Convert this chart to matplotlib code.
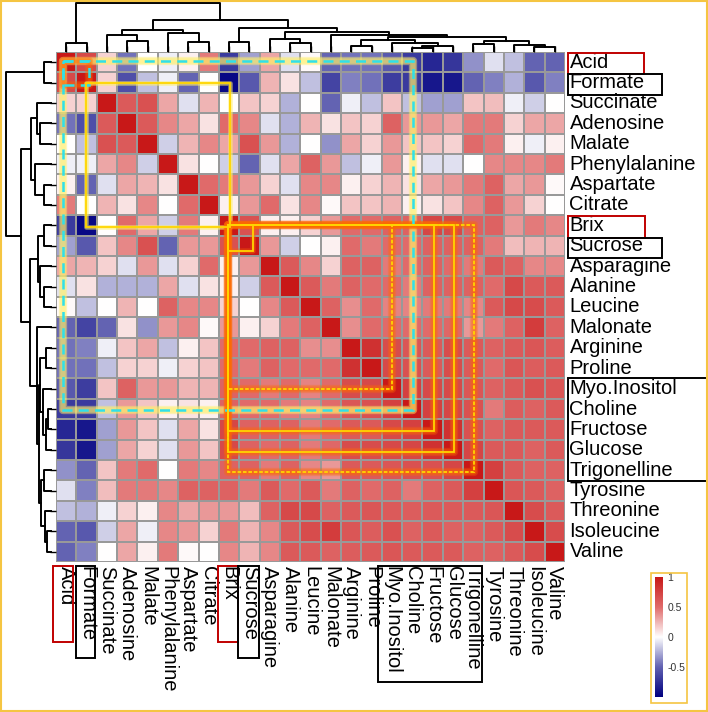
import numpy as np
import matplotlib
matplotlib.use('Agg')
import matplotlib.pyplot as plt
from matplotlib.colors import LinearSegmentedColormap
from matplotlib.patches import Rectangle

plt.rcParams['font.family'] = ['Liberation Sans', 'DejaVu Sans']

labels = ['Acid', 'Formate', 'Succinate', 'Adenosine', 'Malate', 'Phenylalanine',
          'Aspartate', 'Citrate', 'Brix', 'Sucrose', 'Asparagine', 'Alanine',
          'Leucine', 'Malonate', 'Arginine', 'Proline', 'Myo.Inositol', 'Choline',
          'Fructose', 'Glucose', 'Trigonelline', 'Tyrosine', 'Threonine',
          'Isoleucine', 'Valine']

# upper triangle of the correlation matrix, row i holds columns i+1 .. 24
upper = [
    [0.70, 0.15, -0.45, 0.00, -0.05, 0.05, 0.45, -0.70, -0.30, 0.30, -0.10, 0.02,
     -0.50, -0.45, -0.45, -0.55, -0.70, -0.80, -0.72, -0.35, -0.10, -0.20, -0.50, -0.50],
    [0.15, -0.60, -0.20, -0.05, -0.50, 0.00, -0.95, -0.55, 0.25, 0.10, -0.20, -0.65,
     -0.40, -0.45, -0.68, -0.70, -0.88, -0.88, -0.50, -0.40, -0.25, -0.55, -0.40],
    [0.60, 0.65, 0.30, -0.10, 0.25, 0.00, 0.20, 0.15, -0.25, 0.00, -0.50, -0.05,
     -0.20, 0.20, -0.20, -0.30, -0.30, 0.20, 0.22, -0.05, -0.15, 0.00],
    [0.60, 0.40, 0.30, 0.10, 0.50, 0.40, -0.10, -0.25, 0.25, 0.10, 0.20, 0.15,
     0.55, 0.35, 0.35, 0.30, 0.45, 0.45, 0.15, 0.30, 0.30],
    [-0.15, 0.25, 0.40, 0.30, 0.65, 0.35, -0.25, 0.00, -0.35, 0.30, 0.15, 0.35,
     0.20, 0.20, 0.15, 0.50, 0.45, 0.05, -0.05, 0.05],
    [0.10, 0.00, -0.15, -0.50, -0.10, 0.30, 0.55, 0.35, -0.20, -0.05, 0.35, 0.05,
     -0.10, -0.10, 0.00, 0.40, 0.40, 0.40, 0.45],
    [0.50, 0.45, 0.35, 0.15, -0.10, 0.40, 0.40, 0.05, 0.15, 0.25, 0.10, 0.30,
     0.35, 0.45, 0.55, 0.30, 0.35, 0.02],
    [0.05, 0.35, 0.50, 0.10, 0.40, 0.02, 0.20, 0.20, 0.25, 0.05, 0.10, 0.20,
     0.40, 0.55, 0.35, 0.15, 0.00],
    [0.65, 0.05, 0.05, 0.15, 0.35, 0.50, 0.50, 0.55, 0.55, 0.72, 0.70, 0.55,
     0.55, 0.35, 0.45, 0.40],
    [0.35, -0.15, 0.00, 0.05, 0.50, 0.45, 0.50, 0.50, 0.55, 0.55, 0.55, 0.45,
     0.22, 0.25, 0.25],
    [0.60, 0.40, 0.15, 0.55, 0.55, 0.45, 0.50, 0.55, 0.50, 0.45, 0.60, 0.55,
     0.40, 0.40],
    [0.60, 0.45, 0.55, 0.50, 0.50, 0.45, 0.55, 0.55, 0.55, 0.50, 0.70, 0.60, 0.60],
    [0.55, 0.38, 0.50, 0.42, 0.42, 0.45, 0.45, 0.40, 0.60, 0.70, 0.68, 0.60],
    [0.38, 0.50, 0.50, 0.50, 0.50, 0.52, 0.35, 0.45, 0.55, 0.78, 0.55],
    [0.85, 0.68, 0.62, 0.60, 0.68, 0.60, 0.55, 0.60, 0.62, 0.58],
    [0.70, 0.65, 0.60, 0.68, 0.60, 0.50, 0.62, 0.58, 0.60],
    [0.75, 0.70, 0.70, 0.62, 0.55, 0.60, 0.65, 0.62],
    [0.75, 0.72, 0.65, 0.45, 0.58, 0.55, 0.60],
    [0.85, 0.65, 0.55, 0.60, 0.60, 0.60],
    [0.72, 0.60, 0.60, 0.55, 0.60],
    [0.75, 0.60, 0.55, 0.55],
    [0.62, 0.60, 0.55],
    [0.68, 0.60],
    [0.68],
]

# dendrograms as (left, right, merge height in px)
col_tree = ((0, 1, 9),
            (((2, (3, 4, 11), 17), (5, (6, 7, 10), 19), 22),
             ((8, 9, 10),
              ((10, (11, 12, 9), 13),
               (13, (((14, 15, 6), (16, ((17, 18, 4), 19, 6), 9), 12),
                     ((20, 21, 8), (22, (23, 24, 5), 7), 11), 15), 17), 20), 24), 32), 49)
row_tree = ((0, 1, 8),
            (((2, (3, 4, 12), 16), (5, (6, 7, 8), 18), 22),
             (((8, 9, 8), (10, (11, 12, 8), 12), 15),
              (13, (((14, 15, 6), (16, ((17, 18, 4), 19, 6), 9), 12),
                    ((20, 21, 8), (22, (23, 24, 5), 7), 11), 14), 16), 23), 32), 48)


def build_matrix(rows):
    n = len(rows) + 1
    m = np.eye(n)
    for i, r in enumerate(rows):
        for k, v in enumerate(r):
            m[i, i + 1 + k] = v
            m[i + 1 + k, i] = v
    return m


def draw_tree(ax, node, orient):
    if isinstance(node, int):
        return node + 0.5, 0.0
    left, right, h = node
    p1, h1 = draw_tree(ax, left, orient)
    p2, h2 = draw_tree(ax, right, orient)
    if orient == 'top':
        ax.plot([p1, p1, p2, p2], [h1, h, h, h2], color='k', lw=1.4)
    else:
        ax.plot([h1, h, h, h2], [p1, p1, p2, p2], color='k', lw=1.4)
    return (p1 + p2) / 2, h


def glow_rect(ax, x0, x1, y0, y1, color, glow, ls='-', lw=1.3, widths=(6, 4, 2.5), alpha=0.3):
    for w in widths:
        ax.add_patch(Rectangle((x0, y0), x1 - x0, y1 - y0, fill=False, ec=glow,
                               lw=w, alpha=alpha, joinstyle='round', zorder=3))
    ax.add_patch(Rectangle((x0, y0), x1 - x0, y1 - y0, fill=False, ec=color,
                           lw=lw, ls=ls, zorder=4))


corr = build_matrix(upper)
n = len(labels)
W, H = 708, 712

cmap = LinearSegmentedColormap.from_list(
    'bwr_corr', [(0.0, '#000080'), (0.25, '#6262b2'), (0.5, '#ffffff'),
                 (0.75, '#e06b6b'), (1.0, '#c81818')])

fig = plt.figure(figsize=(W / 100, H / 100), dpi=100)
fig.patch.set_facecolor('white')

ax = fig.add_axes([56 / W, 1 - 562 / H, 509 / W, 510 / H])
ax.pcolormesh(np.arange(n + 1), np.arange(n + 1), corr, cmap=cmap, vmin=-1, vmax=1,
              edgecolors='#999999', linewidth=1.2)
ax.set_xlim(0, n)
ax.set_ylim(n, 0)
for s in ax.spines.values():
    s.set_visible(False)
ax.set_xticks(np.arange(n) + 0.5)
ax.set_yticks(np.arange(n) + 0.5)
ax.set_xticklabels([])
ax.set_yticklabels([])
ax.tick_params(axis='x', top=True, bottom=False, length=4, width=1)
ax.tick_params(axis='y', left=True, length=4, width=1)

for i, lab in enumerate(labels):
    ax.text(n + 0.22, i + 0.5, lab, va='center', ha='left', fontsize=14.5, clip_on=False)
    ax.text(i + 0.5, n + 0.2, lab, va='top', ha='center', rotation=270, fontsize=14.5,
            clip_on=False)

# highlight boxes on the heatmap
orange = '#ff6a00'
yellow = '#ffd500'
glow_rect(ax, 0.35, 17.55, 0.45, 17.55, '#30e0e8', '#fff06a', ls=(0, (4, 2.5)), lw=1.8,
          widths=(6, 4), alpha=0.45)
glow_rect(ax, 0.35, 1.6, 0.45, 1.6, '#30e0e8', orange, ls=(0, (4, 2.5)), lw=1.8)
glow_rect(ax, 1.45, 8.55, 1.5, 8.56, yellow, '#fff06a', widths=(3.5, 2.5), alpha=0.4)
glow_rect(ax, 8.45, 20.55, 8.5, 20.6, yellow, orange, ls=(0, (2, 1)))
glow_rect(ax, 8.45, 19.55, 8.5, 19.6, yellow, orange)
glow_rect(ax, 8.45, 18.55, 8.5, 18.6, yellow, orange)
glow_rect(ax, 8.45, 16.5, 8.5, 16.52, yellow, orange, ls=(0, (2, 1)))
glow_rect(ax, 8.45, 9.7, 8.5, 9.75, yellow, orange, widths=(4, 2.5))

# label boxes
red = '#c00000'
for (x0, x1, y0, y1, c) in [(25.15, 28.9, 0.05, 1.1, red), (25.15, 29.76, 1.1, 2.1, 'k'),
                            (25.15, 28.93, 8.05, 9.1, red), (25.15, 29.76, 9.1, 10.1, 'k'),
                            (25.15, 31.95, 15.98, 21.05, 'k'),
                            (-0.13, 0.85, 25.2, 28.9, red), (0.96, 1.93, 25.2, 29.7, 'k'),
                            (7.96, 8.92, 25.2, 28.9, red), (8.96, 9.97, 25.2, 29.7, 'k'),
                            (15.8, 20.9, 25.2, 30.9, 'k')]:
    ax.add_patch(Rectangle((x0, y0), x1 - x0, y1 - y0, fill=False, ec=c, lw=1.4,
                           clip_on=False, zorder=5))

# dendrograms
axt = fig.add_axes([56 / W, 1 - 52 / H, 509 / W, 50 / H])
draw_tree(axt, col_tree, 'top')
axt.set_xlim(0, n)
axt.set_ylim(0, 50)
axt.axis('off')

axl = fig.add_axes([4 / W, 1 - 562 / H, 48 / W, 510 / H])
draw_tree(axl, row_tree, 'left')
axl.set_ylim(n, 0)
axl.set_xlim(50, 0)
axl.axis('off')

# colour key
cax = fig.add_axes([655 / W, 1 - 697 / H, 8 / W, 120 / H])
grad = np.linspace(-1, 1, 256).reshape(-1, 1)
cax.imshow(grad, aspect='auto', cmap=cmap, vmin=-1, vmax=1, origin='lower',
           extent=(0, 1, -1, 1))
cax.set_xticks([])
cax.yaxis.tick_right()
cax.set_yticks([1, 0.5, 0, -0.5])
cax.set_yticklabels(['1', '0.5', '0', '-0.5'])
cax.tick_params(axis='y', length=0, labelsize=7.5, labelcolor='#333333', pad=3)
for s in cax.spines.values():
    s.set_visible(False)

fig.add_artist(Rectangle((651 / W, 1 - 703 / H), 36 / W, 130 / H, transform=fig.transFigure,
                         fill=False, ec='#f5c542', lw=1.2))
fig.add_artist(Rectangle((1 / W, 1 / H), 706 / W, 710 / H, transform=fig.transFigure,
                         fill=False, ec='#f5c542', lw=1.5))

fig.savefig('out.png', dpi=100)
